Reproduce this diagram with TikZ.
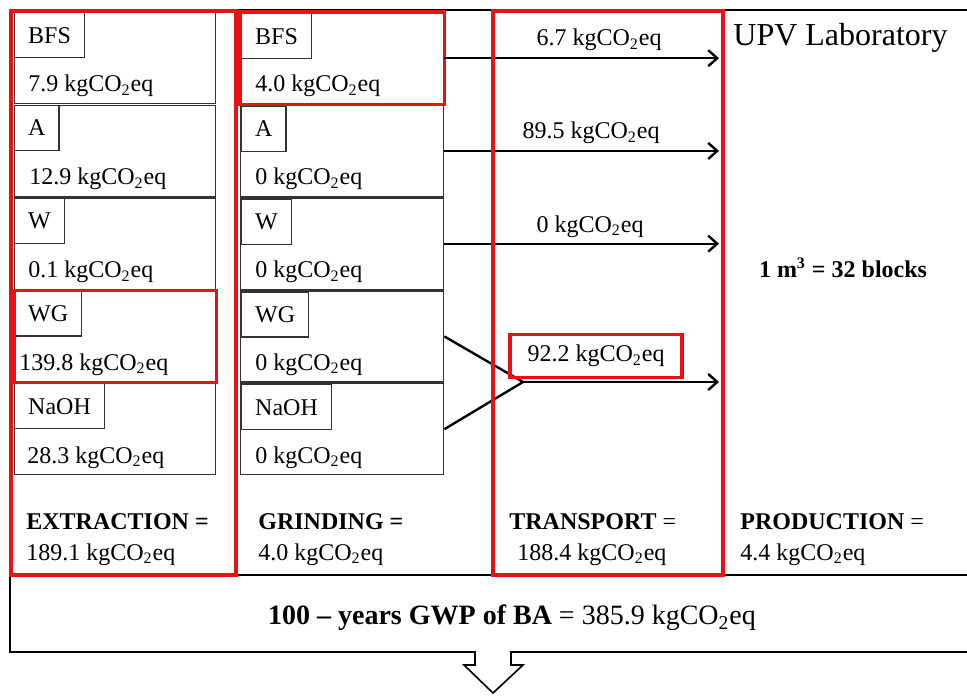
\documentclass[tikz,border=0pt]{standalone}
\usepackage{fontspec}
\setmainfont{Liberation Serif}
\usetikzlibrary{arrows.meta}
\definecolor{frameRed}{RGB}{232,18,18}
\newcommand{\kgco}{kgCO\textsubscript{2}eq}

\begin{document}
\begin{tikzpicture}[x=0.5pt,y=-0.5pt,
    every node/.style={font=\fontsize{12}{14}\selectfont, inner sep=0pt},
    itembox/.style={draw=black!80, line width=0.7pt, minimum height=45.5pt, anchor=north west},
    tagbox/.style={draw=black!80, line width=0.7pt, minimum height=22.5pt, inner xsep=6.75pt, anchor=north west},
    redframe/.style={draw=frameRed, line width=2pt},
    flow/.style={-{Straight Barb[length=4.5pt,width=8pt]}, line width=1.2pt}]
  \useasboundingbox (0,0) rectangle (967,695);

  % columns and total box
  \draw[line width=0.8pt] (10,10) rectangle (980,575);
  \draw[line width=0.8pt] (722,10) -- (722,575);
  \draw[line width=0.8pt] (10,575) -- (10,652) -- (475,652) -- (475,665) -- (464,665)
    -- (493,693) -- (523,665) -- (511,665) -- (511,652) -- (980,652);

  % extraction and grinding rows
  \foreach \i/\lbl/\ext/\grd/\ex in {0/BFS/7.9/4.0/28, 1/A/12.9/0/29, 2/W/0.1/0/28,
      3/WG/139.8/0/19, 4/NaOH/28.3/0/27}{
    \pgfmathsetmacro\rowy{12+92.75*\i}
    \node[itembox, minimum width=100.5pt] (e\i) at (14,\rowy) {};
    \node[tagbox] (et\i) at (14,\rowy) {\lbl};
    \node[anchor=base west] (ev\i) at (\ex,\rowy+80) {\ext~\kgco};
    \node[itembox, minimum width=101.5pt] (g\i) at (240,\rowy) {};
    \node[tagbox] (gt\i) at (241,\rowy+1) {\lbl};
    \node[anchor=base west] (gv\i) at (255,\rowy+80) {\grd~\kgco};
  }
  \draw[draw=frameRed, line width=1.7pt] (e3.north west) rectangle (e3.south east);
  \draw[draw=frameRed, line width=1.7pt] (g0.north west) rectangle (g0.south east);

  % transport
  \coordinate (trR) at (719,0);
  \coordinate (mrg) at (523,382);
  \draw[flow] (g0.east) -- (g0.east -| trR);
  \draw[flow] (g1.east) -- (g1.east -| trR);
  \draw[flow] (g2.east) -- (g2.east -| trR);
  \draw[line width=1.2pt, line join=miter] (g3.east) -- (mrg) -- (g4.east);
  \draw[flow] (mrg) -- (mrg -| trR);
  \node[anchor=base] (a0) at (599,46) {6.7 \kgco};
  \node[anchor=base] (a1) at (591,139) {89.5 \kgco};
  \node[anchor=base] (a2) at (590,232) {0 \kgco};
  \node[draw=frameRed, line width=1.7pt, minimum width=86pt, minimum height=21.5pt] (a3)
    at (596,356) {92.2 \kgco};

  % production
  \node[anchor=base west, font=\fontsize{16}{18}\selectfont] (lab) at (733,46) {UPV Laboratory};
  \node[anchor=base, font=\fontsize{12}{14}\selectfont\bfseries] (blk) at (843,277)
    {1 m\textsuperscript{3} = 32 blocks};

  % stage totals
  \node[anchor=base west] (extT) at (26,529) {\textbf{EXTRACTION =}};
  \node[anchor=base west] (extV) at (26,560) {189.1 \kgco};
  \node[anchor=base west] (grdT) at (258,529) {\textbf{GRINDING =}};
  \node[anchor=base west] (grdV) at (258,560) {4.0 \kgco};
  \node[anchor=base west] (trnT) at (509,529) {\textbf{TRANSPORT} =};
  \node[anchor=base west] (trnV) at (517,560) {188.4 \kgco};
  \node[anchor=base west] (prdT) at (740,529) {\textbf{PRODUCTION} =};
  \node[anchor=base west] (prdV) at (740,560) {4.4 \kgco};
  \node[font=\fontsize{14}{16}\selectfont] (gwp) at (512,618)
    {\textbf{100 – years GWP of BA} = 385.9 \kgco};

  % highlighted stages
  \draw[redframe] (11,11) rectangle (236,575);
  \draw[redframe] (493,11) rectangle (723,575);
\end{tikzpicture}
\end{document}
